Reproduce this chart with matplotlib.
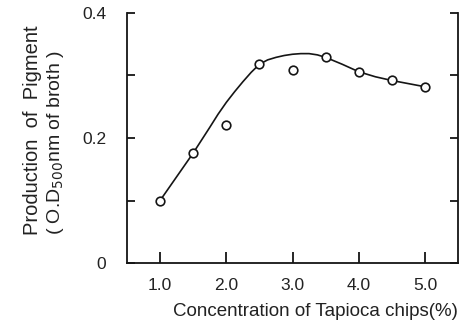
import matplotlib
matplotlib.use("Agg")
import matplotlib.pyplot as plt

plt.rcParams['font.family'] = ['Liberation Sans', 'DejaVu Sans']

# Measured points (concentration %, O.D.)
conc = [1.0, 1.5, 2.0, 2.5, 3.0, 3.5, 4.0, 4.5, 5.0]
pigment = [0.100, 0.176, 0.221, 0.318, 0.308, 0.329, 0.306, 0.292, 0.282]

# Hand-drawn fitted curve
curve_x = [1.0, 1.25, 1.5, 1.75, 1.875, 2.0, 2.125, 2.25, 2.375, 2.5, 2.625, 2.75,
           2.875, 3.0, 3.125, 3.25, 3.375, 3.5, 3.75, 4.0, 4.25, 4.5, 4.75, 5.0]
curve_y = [0.100, 0.138, 0.176, 0.217, 0.238, 0.257, 0.274, 0.290, 0.305, 0.318, 0.325, 0.329,
           0.332, 0.334, 0.335, 0.335, 0.333, 0.329, 0.318, 0.306, 0.298, 0.292, 0.287, 0.282]

x_ticks = [1.0, 2.0, 3.0, 4.0, 5.0]
x_ticklabels = ["1.0", "2.0", "3.0", "4.0", "5.0"]
y_ticks = [0, 0.1, 0.2, 0.3, 0.4]
y_ticklabels = ["0", "", "0.2", "", "0.4"]

fig = plt.figure(figsize=(4.66, 3.29), dpi=100)
ax = fig.add_axes([0.2725, 0.2006, 0.983 - 0.2725, 0.9605 - 0.2006])

ink = '#151515'
ax.plot(curve_x, curve_y, color=ink, lw=1.2, zorder=2)
ax.plot(conc, pigment, 'o', ms=6.2, mfc='white', mec=ink, mew=1.2, zorder=3)

ax.set_xlim(0.5, 5.5)
ax.set_ylim(0, 0.4)
ax.set_xticks(x_ticks)
ax.set_xticklabels(x_ticklabels)
ax.set_yticks(y_ticks)
ax.set_yticklabels(y_ticklabels)

ax.spines['top'].set_visible(False)
for s in ['left', 'right', 'bottom']:
    ax.spines[s].set_linewidth(1.3)
    ax.spines[s].set_color(ink)

ax.tick_params(axis='both', direction='in', length=6, width=1.3, color=ink,
               labelsize=12.5, labelcolor='#222222')
ax.tick_params(axis='y', right=True, pad=15)
ax.tick_params(axis='x', pad=11, length=8)

fig.text(0.9815, 0.0545, "Concentration of Tapioca chips(%)", ha='right', va='center',
         fontsize=13.5, color='#222222')
fig.text(0.070, 0.286, "Production  of  Pigment", rotation=90, ha='center', va='bottom',
         fontsize=14.5, color='#222222')
fig.text(0.119, 0.286, "( O.D$_{500}$nm of broth )", rotation=90, ha='center', va='bottom',
         fontsize=14, color='#222222')

fig.savefig("out.png", dpi=100)
